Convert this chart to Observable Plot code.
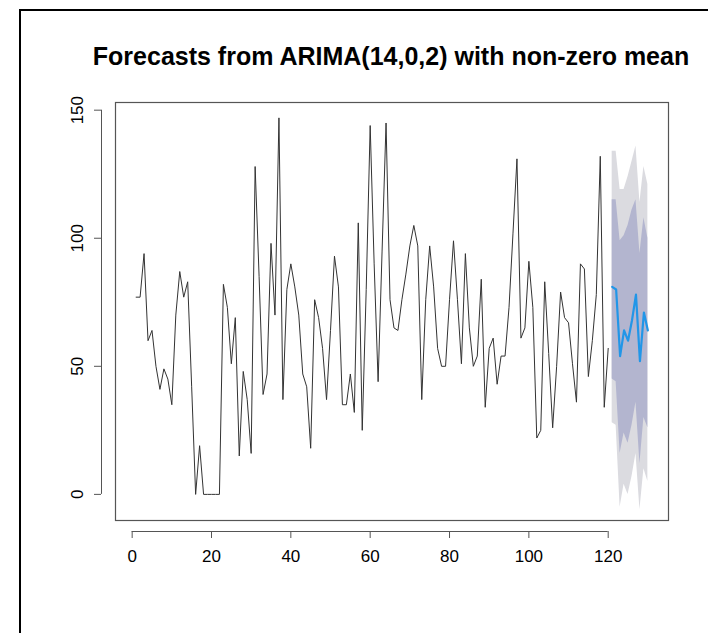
<!DOCTYPE html>
<html>
<head>
<meta charset="utf-8">
<script src="https://cdn.jsdelivr.net/npm/d3@7"></script>
<script src="https://cdn.jsdelivr.net/npm/@observablehq/plot@0.6"></script>
<style>
  html, body { margin: 0; padding: 0; background: #fff; }
  body { width: 708px; height: 633px; position: relative; overflow: hidden; font-family: "Liberation Sans", Arial, sans-serif; }
  #border { position: absolute; left: 19px; top: 9px; width: 700px; height: 640px; border-left: 2px solid #000; border-top: 2px solid #000; }
  #title { position: absolute; left: 0; top: 0; width: 708px; height: 90px; }
  #title div { position: absolute; left: 91px; width: 600px; top: 42px; text-align: center; font-weight: bold; font-size: 25px; color: #000; white-space: nowrap; }
  #chart { position: absolute; left: 0; top: 90px; }
</style>
</head>
<body>
<div id="border"></div>
<div id="title"><div>Forecasts from ARIMA(14,0,2) with non-zero mean</div></div>
<div id="chart"></div>
<script>
// Observed series (t = 1..120)
const observed = [77, 77, 94, 60, 64, 50, 41, 49, 45, 35,
  70, 87, 77, 83, 42, 0, 19, 0, 0, 0,
  0, 0, 82, 73, 51, 69, 15, 48, 37, 16,
  128, 85, 39, 47, 98, 70, 147, 37, 80, 90,
  81, 70, 47, 42, 18, 76, 69, 57, 37, 64,
  93, 81, 35, 35, 47, 32, 106, 25, 80, 144,
  90, 44, 95, 145, 76, 65, 64, 76, 86, 97,
  105, 97, 37, 76, 97, 81, 57, 50, 50, 76,
  99, 76, 51, 94, 65, 50, 54, 84, 34, 57,
  61, 43, 54, 54, 73, 102, 131, 61, 65, 91,
  73, 22, 25, 83, 55, 26, 50, 79, 69, 67,
  51, 36, 90, 88, 46, 60, 78, 132, 34, 57];

// Forecast horizon t = 121..130
const fcTime = [121, 122, 123, 124, 125, 126, 127, 128, 129, 130];
const fcMean = [81, 80, 54, 64, 60, 68, 78, 52, 71, 64];
const hi80 = [115, 115, 99, 101, 105, 111, 115, 94, 108, 100];
const lo80 = [45, 44, 16, 24, 20, 27, 36, 12, 30, 26];
const hi95 = [134, 134, 119, 119, 124, 130, 136, 114, 128, 121];
const lo95 = [28, 27, -5, 4, 0, 7, 16, -6, 10, 5];

const xTicks = [0, 20, 40, 60, 80, 100, 120];
const yTicks = [0, 50, 100, 150];
const xDomain = [-4.2, 135.2];
const yDomain = [-10.2, 153];

const obsData = observed.map((v, i) => ({t: i + 1, v}));
const fcData = fcTime.map((t, i) => ({t, m: fcMean[i], l80: lo80[i], h80: hi80[i], l95: lo95[i], h95: hi95[i]}));

const chart = Plot.plot({
  width: 708,
  height: 543,
  marginLeft: 115,
  marginRight: 40,
  marginTop: 12,
  marginBottom: 113,
  style: {fontFamily: "'Liberation Sans', Arial, sans-serif", fontSize: "17px", background: "transparent", color: "#000"},
  x: {domain: xDomain},
  y: {domain: yDomain},
  marks: [
    Plot.areaY(fcData, {x: "t", y1: "l95", y2: "h95", fill: "#DBDBE0"}),
    Plot.areaY(fcData, {x: "t", y1: "l80", y2: "h80", fill: "#B3B5CF"}),
    Plot.lineY(obsData, {x: "t", y: "v", stroke: "#333", strokeWidth: 1}),
    Plot.lineY(fcData, {x: "t", y: "m", stroke: "#2196E8", strokeWidth: 2.2}),
    Plot.frame({stroke: "#555", strokeWidth: 1.2}),
    Plot.ruleX([xDomain[0]], {y1: yTicks[0], y2: yTicks[yTicks.length - 1], dx: -14, stroke: "#555"}),
    Plot.ruleY([yDomain[0]], {x1: xTicks[0], x2: xTicks[xTicks.length - 1], dy: 11, stroke: "#555"}),
    Plot.axisY({ticks: yTicks, tickSize: 7, dx: -14, tickPadding: 12, tickRotate: -90, stroke: "#555", fontSize: 17, label: null}),
    Plot.axisX({ticks: xTicks, tickSize: 7, dy: 11, tickPadding: 11, stroke: "#555", fontSize: 17, label: null})
  ]
});
document.getElementById("chart").appendChild(chart);
</script>
</body>
</html>
